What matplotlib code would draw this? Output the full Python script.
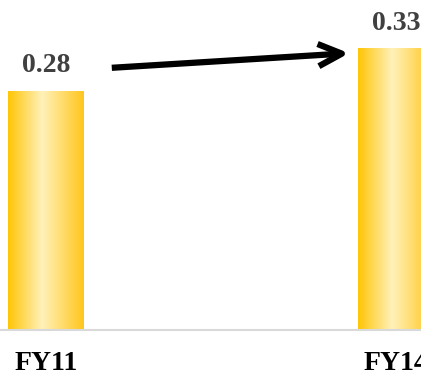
import numpy as np
import matplotlib.pyplot as plt
from matplotlib.colors import LinearSegmentedColormap

# data
years = ['FY11', 'FY14']
values = [0.28, 0.33]

fig = plt.figure(figsize=(4.21, 3.79), dpi=100)
ax = fig.add_axes([0, 0.129, 1, 0.871])

x = np.arange(len(years))
bar_w = 0.217
bars = ax.bar(x, values, width=bar_w, color='none', edgecolor='none', zorder=2)

# horizontal gold gradient inside each bar
cmap = LinearSegmentedColormap.from_list(
    'gold', [(0, '#FFC505'), (0.45, '#FFF1BA'), (1, '#FFC61C')])
grad = np.linspace(0, 1, 256).reshape(1, -1)
for b in bars:
    x0, y0 = b.get_x(), b.get_y()
    im = ax.imshow(grad, cmap=cmap, aspect='auto', zorder=2,
                   extent=[x0, x0 + b.get_width(), y0, y0 + b.get_height()])
    im.set_clip_path(b)

ax.set_xlim(-0.1314, 1.0714)
ax.set_ylim(0, 0.3866)

# value labels
for xi, v in zip(x, values):
    ax.text(xi, v + 0.015, f'{v:.2f}', ha='center', va='bottom',
            fontsize=20, fontweight='bold', family='Liberation Serif',
            color='#404040')

# arrow between the bars
ax.annotate('', xy=(0.874, 0.3245), xytext=(0.18, 0.307),
            arrowprops=dict(arrowstyle='->,head_length=1.7,head_width=0.8',
                            lw=4.5, color='black', capstyle='butt'))

ax.set_xticks(x)
ax.set_xticklabels(years, fontsize=20, fontweight='bold',
                   family='Liberation Serif', color='black')
ax.tick_params(axis='x', length=0, pad=15)
ax.set_yticks([])
for s in ['top', 'left', 'right']:
    ax.spines[s].set_visible(False)
ax.spines['bottom'].set_color('#D9D9D9')
ax.spines['bottom'].set_linewidth(1.5)

plt.savefig('out.png', dpi=100)
